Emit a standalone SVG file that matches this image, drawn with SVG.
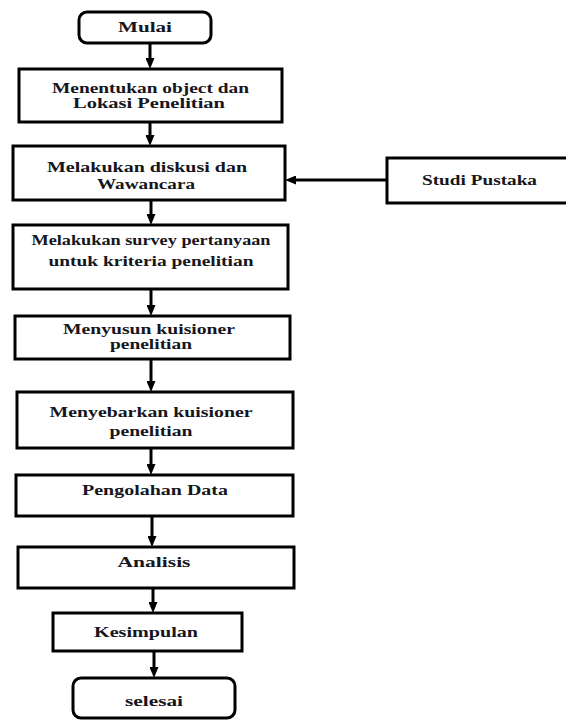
<svg xmlns="http://www.w3.org/2000/svg" width="566" height="720" viewBox="0 0 566 720">
<style>
.box{fill:#fff;stroke:#000;stroke-width:3}
.t{font-family:"Liberation Serif","Times New Roman",serif;font-weight:bold;font-size:15px;fill:#161620;text-anchor:middle}
.c{fill:none;stroke:#000;stroke-width:3}
</style>
<defs>
<marker id="ah" markerUnits="userSpaceOnUse" markerWidth="11" markerHeight="9" viewBox="0 0 11 9" refX="4" refY="4.5" orient="auto">
<path d="M0,0 L11,4.5 L0,9 Z" fill="#000"/>
</marker>
</defs>
<rect width="566" height="720" fill="#fff"/>
<g id="connectors">
<line class="c" x1="150" y1="43" x2="150" y2="62" marker-end="url(#ah)"/>
<line class="c" x1="150" y1="122" x2="150" y2="139" marker-end="url(#ah)"/>
<line class="c" x1="151" y1="200" x2="151" y2="218" marker-end="url(#ah)"/>
<line class="c" x1="151" y1="289" x2="151" y2="309" marker-end="url(#ah)"/>
<line class="c" x1="151" y1="359" x2="151" y2="385" marker-end="url(#ah)"/>
<line class="c" x1="151" y1="448" x2="151" y2="468" marker-end="url(#ah)"/>
<line class="c" x1="152" y1="516" x2="152" y2="540" marker-end="url(#ah)"/>
<line class="c" x1="153" y1="588" x2="153" y2="606" marker-end="url(#ah)"/>
<line class="c" x1="154" y1="651" x2="154" y2="671" marker-end="url(#ah)"/>
<line class="c" x1="387" y1="180" x2="292" y2="180" marker-end="url(#ah)"/>
</g>
<g id="mulai">
<rect class="box" x="79" y="12" width="132" height="31" rx="8"/>
<text class="t" x="145" y="32" textLength="54" lengthAdjust="spacingAndGlyphs">Mulai</text>
</g>
<g id="menentukan">
<rect class="box" x="19" y="69" width="263" height="53"/>
<text class="t" x="150.5" y="93" textLength="197" lengthAdjust="spacingAndGlyphs">Menentukan object dan</text>
<text class="t" x="149" y="108" textLength="152" lengthAdjust="spacingAndGlyphs">Lokasi Penelitian</text>
</g>
<g id="diskusi">
<rect class="box" x="13" y="146" width="272" height="54"/>
<text class="t" x="147" y="172" textLength="200" lengthAdjust="spacingAndGlyphs">Melakukan diskusi dan</text>
<text class="t" x="146" y="189" textLength="98" lengthAdjust="spacingAndGlyphs">Wawancara</text>
</g>
<g id="studi">
<rect class="box" x="387" y="158" width="185" height="45"/>
<text class="t" x="479.5" y="185" textLength="115" lengthAdjust="spacingAndGlyphs">Studi Pustaka</text>
</g>
<g id="survey">
<rect class="box" x="13" y="225" width="275" height="64"/>
<text class="t" x="151" y="245" textLength="239" lengthAdjust="spacingAndGlyphs">Melakukan survey pertanyaan</text>
<text class="t" x="151" y="266" textLength="205" lengthAdjust="spacingAndGlyphs">untuk kriteria penelitian</text>
</g>
<g id="menyusun">
<rect class="box" x="15" y="316" width="275" height="43"/>
<text class="t" x="149" y="334" textLength="172" lengthAdjust="spacingAndGlyphs">Menyusun kuisioner</text>
<text class="t" x="151" y="349" textLength="82" lengthAdjust="spacingAndGlyphs">penelitian</text>
</g>
<g id="menyebarkan">
<rect class="box" x="17" y="392" width="276" height="56"/>
<text class="t" x="151" y="417" textLength="203" lengthAdjust="spacingAndGlyphs">Menyebarkan kuisioner</text>
<text class="t" x="151" y="436" textLength="83" lengthAdjust="spacingAndGlyphs">penelitian</text>
</g>
<g id="pengolahan">
<rect class="box" x="16" y="475" width="277" height="41"/>
<text class="t" x="155" y="495" textLength="146" lengthAdjust="spacingAndGlyphs">Pengolahan Data</text>
</g>
<g id="analisis">
<rect class="box" x="18" y="547" width="276" height="41"/>
<text class="t" x="154" y="567" textLength="73" lengthAdjust="spacingAndGlyphs">Analisis</text>
</g>
<g id="kesimpulan">
<rect class="box" x="53" y="613" width="189" height="38"/>
<text class="t" x="146" y="637" textLength="104" lengthAdjust="spacingAndGlyphs">Kesimpulan</text>
</g>
<g id="selesai">
<rect class="box" x="73" y="678" width="162" height="40" rx="8"/>
<text class="t" x="154" y="706" textLength="58" lengthAdjust="spacingAndGlyphs">selesai</text>
</g>
</svg>
